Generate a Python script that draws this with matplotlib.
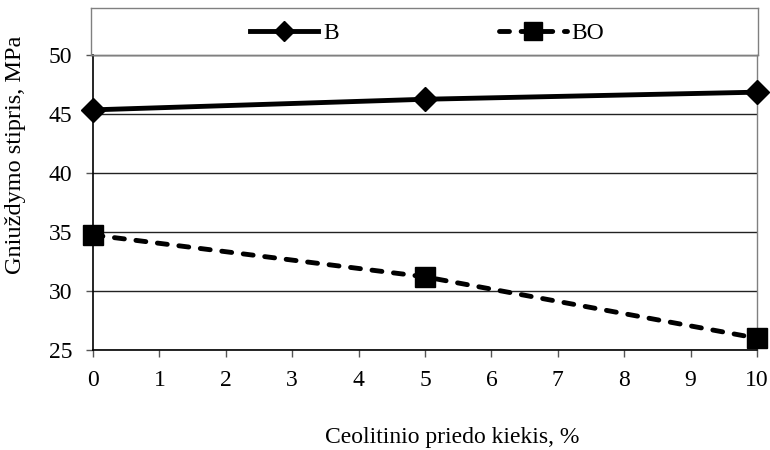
"""Gniuždymo stiprio priklausomybė nuo ceolitinio priedo kiekio."""

import matplotlib
matplotlib.use("Agg")
import matplotlib.pyplot as plt

plt.rcParams["font.family"] = ["Liberation Serif", "DejaVu Serif"]
plt.rcParams["font.size"] = 17

# duomenys
ceolitas = [0, 5, 10]
stipris_b = [45.35, 46.25, 46.85]
stipris_bo = [34.75, 31.2, 26.0]
x_ticks = list(range(0, 11))
y_ticks = [25, 30, 35, 40, 45, 50]

W, H = 770, 450
fig = plt.figure(figsize=(W / 100, H / 100), dpi=100)

# ašių vieta pikseliais: kairė 93, dešinė 757, viršus 55, apačia 350
left, right, top, bottom = 93, 757, 55, 350
ax = fig.add_axes([left / W, 1 - bottom / H, (right - left) / W, (bottom - top) / H])

(line_b,) = ax.plot(ceolitas, stipris_b, color="black", lw=3.5, marker="D",
                    markersize=12, label="B", zorder=3, clip_on=False)
(line_bo,) = ax.plot(ceolitas, stipris_bo, color="black", lw=3.5, ls=(0, (2.05, 2.4)),
                     dash_capstyle="round", marker="s", markersize=14.5,
                     label="BO", zorder=3, clip_on=False)

ax.set_xlim(0, 10)
ax.set_ylim(25, 50)
ax.set_xticks(x_ticks)
ax.set_yticks(y_ticks)
ax.yaxis.grid(True, color="#222222", lw=1.0)
ax.set_axisbelow(True)

for side in ("left", "bottom"):
    ax.spines[side].set_color("black")
    ax.spines[side].set_linewidth(1.2)
for side in ("top", "right"):
    ax.spines[side].set_color("#808080")
    ax.spines[side].set_linewidth(1.0)

ax.tick_params(axis="both", direction="out", length=5, width=1, color="#555555",
               labelsize=17)
ax.tick_params(axis="x", pad=9.5)
ax.tick_params(axis="y", pad=10)

fig.text(452 / W, 1 - 443 / H, "Ceolitinio priedo kiekis, %", ha="center", va="baseline",
         fontsize=17)
fig.text(16 / W, 1 - 155 / H, "Gniuždymo stipris, MPa", ha="center", va="center",
         rotation=90, fontsize=17.5)

# legenda viršuje, per visą plotį
leg_ax = fig.add_axes([91 / W, 1 - 55 / H, (758 - 91) / W, (55 - 8) / H])
leg_ax.set_xticks([])
leg_ax.set_yticks([])
for s in leg_ax.spines.values():
    s.set_color("#808080")
    s.set_linewidth(1.0)
leg_ax.patch.set_alpha(0)
leg = leg_ax.legend(handles=[line_b, line_bo], loc="center", ncol=2, frameon=False,
                    handlelength=2.9, columnspacing=6.77, handletextpad=0.2,
                    fontsize=17, markerscale=0.85, bbox_to_anchor=(0.504, 0.46))

fig.savefig("out.png", dpi=100)
